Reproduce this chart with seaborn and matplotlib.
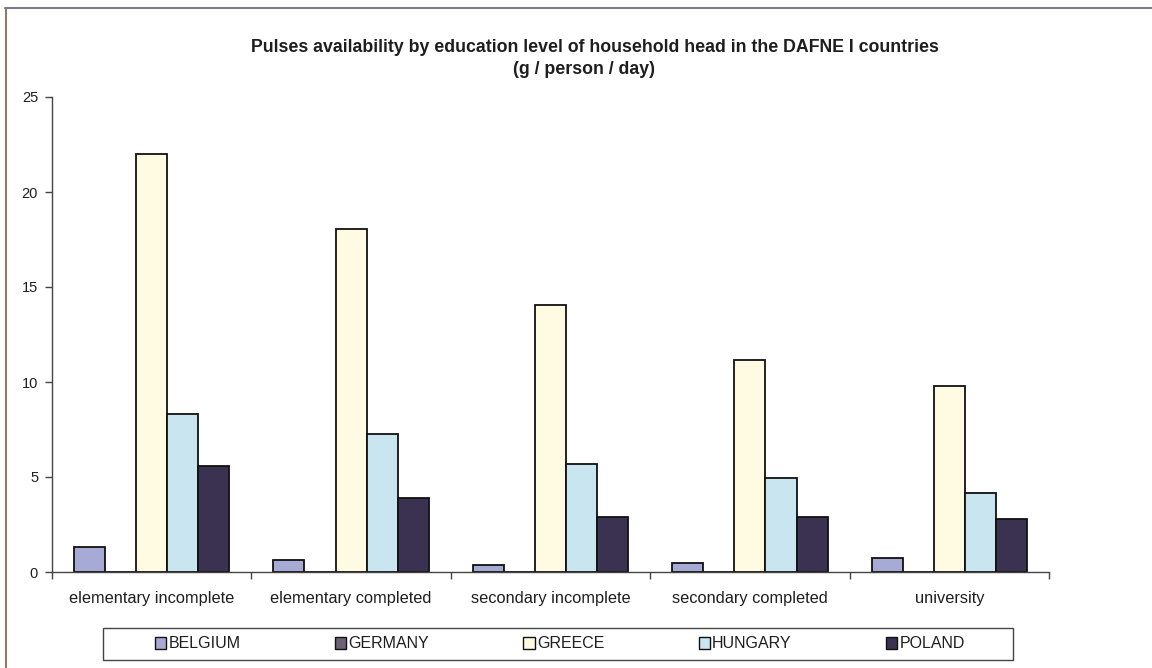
import matplotlib
matplotlib.use("Agg")
import matplotlib.pyplot as plt
from matplotlib.patches import Patch, Rectangle
from matplotlib.lines import Line2D
import seaborn as sns
import pandas as pd

# Pulses availability (g / person / day) by education level of household head
levels = ["elementary incomplete", "elementary completed", "secondary incomplete",
          "secondary completed", "university"]
countries = ["BELGIUM", "GERMANY", "GREECE", "HUNGARY", "POLAND"]
belgium = [1.3, 0.65, 0.35, 0.5, 0.75]
germany = [0.0, 0.0, 0.0, 0.0, 0.0]
greece = [22.0, 18.05, 14.05, 11.15, 9.8]
hungary = [8.3, 7.25, 5.7, 4.95, 4.15]
poland = [5.6, 3.9, 2.9, 2.9, 2.8]
yticks = [0, 5, 10, 15, 20, 25]

colors = ["#a7aad4", "#6b6276", "#fffbe2", "#c9e6f0", "#3b3150"]

rows = []
for c, vals in zip(countries, [belgium, germany, greece, hungary, poland]):
    for lvl, v in zip(levels, vals):
        rows.append({"level": lvl, "country": c, "value": v})
df = pd.DataFrame(rows)

sns.set_theme(style="white")
plt.rcParams["font.family"] = ["Liberation Sans", "DejaVu Sans"]
text_color = "#1e1e1e"

fig = plt.figure(figsize=(11.52, 6.68), dpi=100)
ax = fig.add_axes([52 / 1152, 1 - 572 / 668, (1049 - 52) / 1152, (572 - 97) / 668])

sns.barplot(data=df, x="level", y="value", hue="country", order=levels,
            hue_order=countries, palette=colors, width=0.78, gap=0,
            edgecolor="#111111", linewidth=1.3, saturation=1, ax=ax,
            legend=False)

ax.set_xlim(-0.5, len(levels) - 0.5)
ax.set_ylim(0, 25)
ax.set_yticks(yticks)
ax.set_yticklabels([str(t) for t in yticks], fontsize=10.5, color=text_color)
ax.set_xlabel("")
ax.set_ylabel("")
ax.set_xticks(range(len(levels)))
ax.set_xticklabels(levels, fontsize=11.8, color=text_color)
ax.set_xticks([i - 0.5 for i in range(len(levels) + 1)], minor=True)
ax.tick_params(axis="x", which="major", length=0, pad=14)
ax.tick_params(axis="x", which="minor", length=5, width=1, color="#444444",
               direction="out", bottom=True)
ax.tick_params(axis="y", length=5, width=1, color="#444444", direction="out",
               left=True, pad=5)

for side in ["top", "right"]:
    ax.spines[side].set_visible(False)
for side in ["left", "bottom"]:
    ax.spines[side].set_color("#444444")
    ax.spines[side].set_linewidth(1.0)

fig.text(595 / 1152, 1 - 48 / 668,
         "Pulses availability by education level of household head in the DAFNE I countries",
         ha="center", va="center", fontsize=12.8, fontweight="bold", color=text_color)
fig.text(584 / 1152, 1 - 70 / 668, "(g / person / day)",
         ha="center", va="center", fontsize=12.8, fontweight="bold", color=text_color)

# Legend with a separate rectangular frame
handles = [Patch(facecolor=col, edgecolor="#111111", linewidth=1.0) for col in colors]
fig.legend(handles, countries, loc="center", bbox_to_anchor=(560 / 1152, 1 - 644 / 668),
           ncol=5, frameon=False, fontsize=11.5, handlelength=0.7, handleheight=0.7,
           handletextpad=0.15, columnspacing=5.9, labelcolor=text_color)
fig.add_artist(Rectangle((103 / 1152, 1 - 660 / 668), (1013 - 103) / 1152, 32 / 668,
                         transform=fig.transFigure, fill=False,
                         edgecolor="#444444", linewidth=1.0))

# Outer chart frame (top and left edges)
fig.add_artist(Line2D([5 / 1152, 1.0], [1 - 8 / 668, 1 - 8 / 668],
                      transform=fig.transFigure, color="#7d7a8a", linewidth=1.5))
fig.add_artist(Line2D([6 / 1152, 6 / 1152], [0.0, 1 - 8 / 668],
                      transform=fig.transFigure, color="#8a7a70", linewidth=1.5))

fig.savefig("out.png", dpi=100)
